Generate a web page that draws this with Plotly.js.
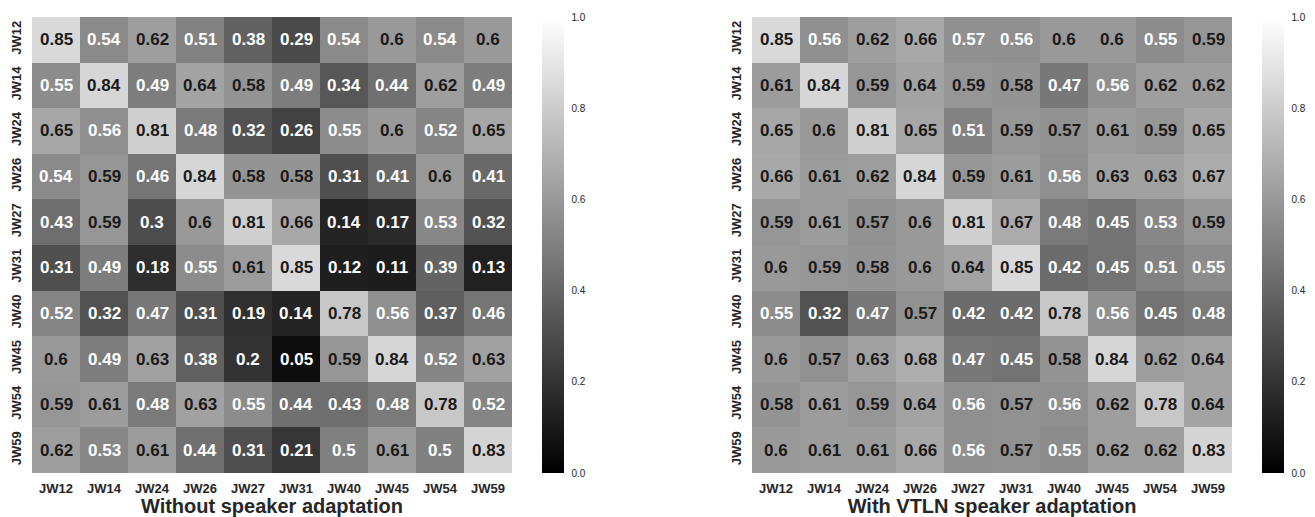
<!DOCTYPE html>
<html>
<head>
<meta charset="utf-8">
<script src="https://cdn.plot.ly/plotly-3.0.1.min.js"></script>
<style>html,body{margin:0;padding:0;background:#fff;}#chart{width:1315px;height:517px;}</style>
</head>
<body>
<div id="chart"></div>
<script>
const speakers = ['JW12','JW14','JW24','JW26','JW27','JW31','JW40','JW45','JW54','JW59'];

const withoutAdaptation = [
  [0.85,0.54,0.62,0.51,0.38,0.29,0.54,0.6,0.54,0.6],
  [0.55,0.84,0.49,0.64,0.58,0.49,0.34,0.44,0.62,0.49],
  [0.65,0.56,0.81,0.48,0.32,0.26,0.55,0.6,0.52,0.65],
  [0.54,0.59,0.46,0.84,0.58,0.58,0.31,0.41,0.6,0.41],
  [0.43,0.59,0.3,0.6,0.81,0.66,0.14,0.17,0.53,0.32],
  [0.31,0.49,0.18,0.55,0.61,0.85,0.12,0.11,0.39,0.13],
  [0.52,0.32,0.47,0.31,0.19,0.14,0.78,0.56,0.37,0.46],
  [0.6,0.49,0.63,0.38,0.2,0.05,0.59,0.84,0.52,0.63],
  [0.59,0.61,0.48,0.63,0.55,0.44,0.43,0.48,0.78,0.52],
  [0.62,0.53,0.61,0.44,0.31,0.21,0.5,0.61,0.5,0.83]
];

const withVTLN = [
  [0.85,0.56,0.62,0.66,0.566,0.56,0.6,0.6,0.55,0.59],
  [0.61,0.84,0.59,0.64,0.59,0.58,0.47,0.56,0.62,0.62],
  [0.65,0.6,0.81,0.65,0.51,0.59,0.57,0.61,0.59,0.65],
  [0.66,0.61,0.62,0.84,0.59,0.61,0.56,0.63,0.63,0.67],
  [0.59,0.61,0.57,0.6,0.81,0.67,0.48,0.45,0.53,0.59],
  [0.6,0.59,0.58,0.6,0.64,0.85,0.42,0.45,0.51,0.55],
  [0.55,0.32,0.47,0.57,0.42,0.42,0.78,0.56,0.45,0.48],
  [0.6,0.57,0.63,0.68,0.47,0.45,0.58,0.84,0.62,0.64],
  [0.58,0.61,0.59,0.64,0.56,0.57,0.56,0.62,0.78,0.64],
  [0.6,0.61,0.61,0.66,0.56,0.57,0.55,0.62,0.62,0.83]
];

const panelTitles = ['Without speaker adaptation', 'With VTLN speaker adaptation'];
const colorbarTicks = [0, 0.2, 0.4, 0.6, 0.8, 1.0];
const colorbarTickText = ['0.0','0.2','0.4','0.6','0.8','1.0'];

const FONT = 'Liberation Sans, Arial, sans-serif';
const W = 1315, H = 517;
const px = v => v / W;
const py = v => 1 - v / H;

function fmt(v) {
  return String(Math.round(v * 100) / 100);
}

const greys = [[0,'#000000'],[1,'#ffffff']];

function heat(z, xa, ya, cbx) {
  return {
    type: 'heatmap', z: z, x: speakers, y: speakers,
    xaxis: xa, yaxis: ya,
    zmin: 0, zmax: 1, colorscale: greys,
    hoverinfo: 'skip',
    colorbar: {
      x: cbx, xanchor: 'left', y: py(245), yanchor: 'middle',
      thickness: 22, thicknessmode: 'pixels',
      len: 456, lenmode: 'pixels',
      outlinewidth: 0, ticks: 'outside', ticklen: 6, tickcolor: 'rgba(0,0,0,0)',
      tickvals: colorbarTicks, ticktext: colorbarTickText,
      tickfont: {family: FONT, size: 10, color: '#262626'},
      xpad: 0, ypad: 0
    }
  };
}

const data = [
  heat(withoutAdaptation, 'x', 'y', px(542)),
  heat(withVTLN, 'x2', 'y2', px(1262))
];

const annotations = [];
[[withoutAdaptation,'x','y'],[withVTLN,'x2','y2']].forEach(([m, xr, yr]) => {
  m.forEach((row, i) => row.forEach((v, j) => {
    annotations.push({
      x: speakers[j], y: speakers[i], xref: xr, yref: yr,
      text: fmt(v), showarrow: false,
      font: {family: FONT, size: 17, weight: 'bold', color: v >= 0.568 ? '#1a1a1a' : '#ffffff'}
    });
  }));
});

const tickFont = {family: FONT, size: 13, weight: 'bold', color: '#262626'};
function xax(d, title) {
  return {
    domain: d, type: 'category', showgrid: false, zeroline: false, showline: false,
    ticks: '', tickfont: tickFont, tickangle: 0, fixedrange: true, ticklabelstandoff: 6,
    title: {text: title, font: {family: FONT, size: 20, weight: 'bold', color: '#262626'}, standoff: 6}
  };
}
function yax(anchor) {
  return {
    domain: [py(473), py(17)], type: 'category', autorange: 'reversed', anchor: anchor,
    showgrid: false, zeroline: false, showline: false,
    ticks: '', tickfont: tickFont, tickangle: -90, fixedrange: true, ticklabelstandoff: 7
  };
}

const layout = {
  width: W, height: H,
  margin: {l: 0, r: 0, t: 0, b: 0},
  paper_bgcolor: '#ffffff', plot_bgcolor: '#ffffff',
  showlegend: false,
  xaxis: Object.assign(xax([px(32), px(512)], panelTitles[0]), {anchor: 'y'}),
  yaxis: yax('x'),
  xaxis2: Object.assign(xax([px(752), px(1232)], panelTitles[1]), {anchor: 'y2'}),
  yaxis2: yax('x2'),
  annotations: annotations
};

Plotly.newPlot('chart', data, layout, {displayModeBar: false, staticPlot: true});
</script>
</body>
</html>
